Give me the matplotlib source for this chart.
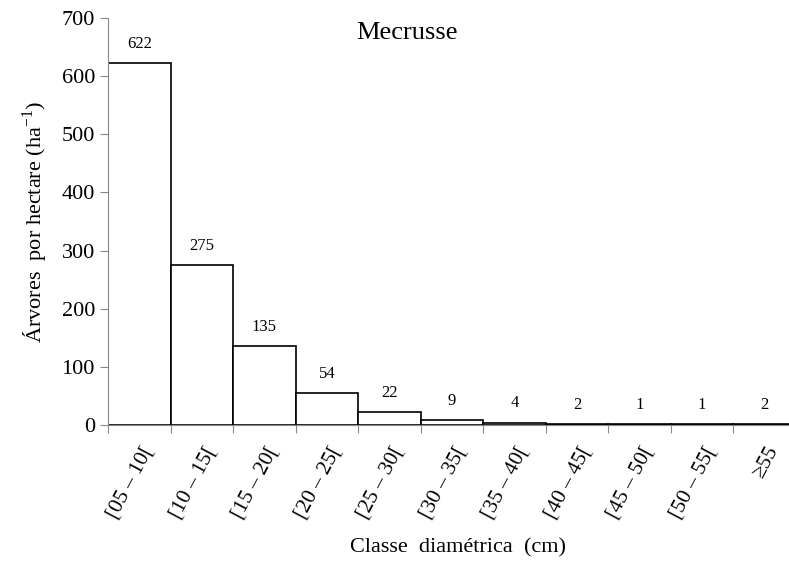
import numpy as np
import matplotlib.pyplot as plt
import matplotlib.ticker as ticker

plt.rcParams["font.family"] = ["Liberation Serif", "DejaVu Serif"]
plt.rcParams["mathtext.fontset"] = "custom"
plt.rcParams["mathtext.rm"] = "Liberation Serif"

classes = ["[05 – 10[", "[10 – 15[", "[15 – 20[", "[20 – 25[", "[25 – 30[",
           "[30 – 35[", "[35 – 40[", "[40 – 45[", "[45 – 50[", "[50 – 55[", "≥55"]
trees_per_ha = [622, 275, 135, 54, 22, 9, 4, 2, 1, 1, 2]
title = "Mecrusse"


def plot_histogram() -> None:
    fig = plt.figure(figsize=(7.89, 5.65), dpi=100)
    ax = fig.add_axes([0.137, 0.248, 0.870, 0.720])

    x = np.arange(len(trees_per_ha))
    bars = ax.bar(x, trees_per_ha, width=1.0, align="edge",
                  color="white", edgecolor="black", linewidth=1.2)

    for rect, v in zip(bars, trees_per_ha):
        ax.annotate(str(v), (rect.get_x() + rect.get_width() / 2, rect.get_height()),
                    xytext=(0, 8), textcoords="offset points",
                    ha="center", va="bottom", fontsize=12)

    ax.set_xlim(0, 10.98)
    ax.set_ylim(0, 700)
    ax.yaxis.set_major_locator(ticker.MultipleLocator(100))

    # ticks at bar edges, labels hanging under each bar
    ax.set_xticks(x)
    ax.set_xticklabels([])
    for xi, lab in zip(x, classes):
        ax.annotate(lab, (xi + 0.52, 0), xytext=(0, -13), textcoords="offset points",
                    rotation=62, ha="right", va="top", rotation_mode="anchor",
                    fontsize=15.5, annotation_clip=False)

    for side in ("top", "right"):
        ax.spines[side].set_visible(False)
    for side in ("left", "bottom"):
        ax.spines[side].set_color("#888888")
    ax.tick_params(axis="both", direction="out", color="#888888",
                   length=6, labelsize=16)

    ax.text(0.436, 0.99, title, transform=ax.transAxes, ha="center",
            va="top", fontsize=19)
    ax.set_ylabel("Árvores  por hectare (ha$^{\\mathrm{-1}}$)", fontsize=16, labelpad=8)
    fig.text(0.581, 0.03, "Classe  diamétrica  (cm)", ha="center",
             va="center", fontsize=16)

    fig.savefig("out.png", dpi=100)


if __name__ == "__main__":
    plot_histogram()
